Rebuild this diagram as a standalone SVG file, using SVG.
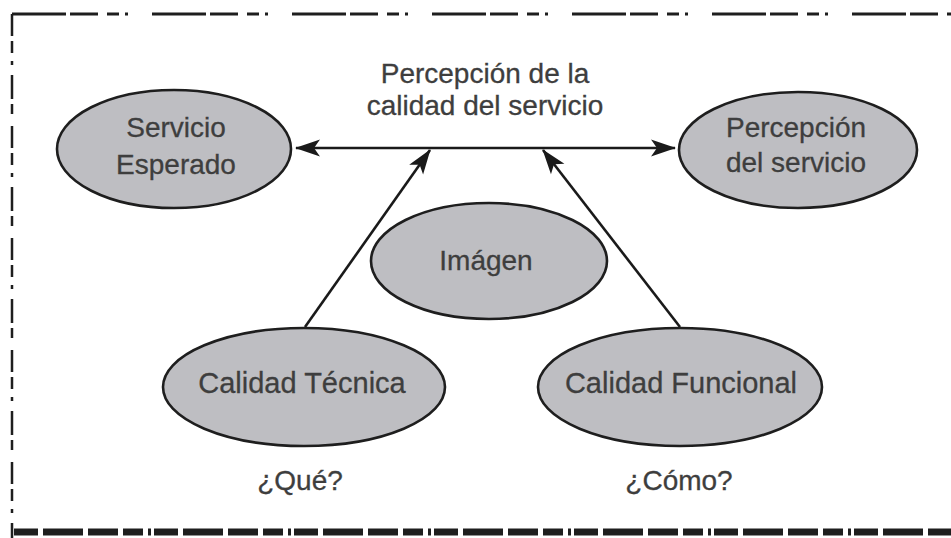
<svg xmlns="http://www.w3.org/2000/svg" width="951" height="538" viewBox="0 0 951 538">
  <defs>
    <marker id="ah" viewBox="-25 -10 27 20" refX="0" refY="0" markerWidth="27" markerHeight="20" markerUnits="userSpaceOnUse" orient="auto-start-reverse">
      <path d="M1,0 L-24,-8.5 L-18,0 L-24,8.5 Z" fill="#1a1a1a"/>
    </marker>
    <style>
      .node ellipse { fill: #bebec2; stroke: #1e1e1e; stroke-width: 2.6; }
      .lbl { font-family: "Liberation Sans", Arial, sans-serif; font-size: 28px; fill: #3e3e3e; stroke: #3e3e3e; stroke-width: 0.3; text-anchor: middle; }
      .conn { stroke: #1a1a1a; stroke-width: 2.6; fill: none; }
      .frame { stroke: #1e1e1e; fill: none; }
    </style>
  </defs>
  <rect width="951" height="538" fill="#ffffff"/>

  <g id="frame">
    <line class="frame" x1="12" y1="14" x2="951" y2="14" stroke-width="3" stroke-dasharray="54 4 28 9 12 6 3 24"/>
    <line class="frame" x1="12" y1="14" x2="12" y2="538" stroke-width="2.5" stroke-dasharray="22 5 12 8 4 10 24 5 10 12"/>
    <line class="frame" x1="14" y1="532" x2="951" y2="532" stroke-width="7" stroke-dasharray="24 5 40 5 30 5 20 5 3 3"/>
  </g>

  <g id="connectors">
    <path class="conn" d="M296,148 L675,148" marker-start="url(#ah)" marker-end="url(#ah)"/>
    <path class="conn" d="M305,327 L430,150" marker-end="url(#ah)"/>
    <path class="conn" d="M680,327 L543,150" marker-end="url(#ah)"/>
  </g>

  <g id="title">
    <text class="lbl" x="485" y="83">Percepción de la</text>
    <text class="lbl" x="485" y="115">calidad del servicio</text>
  </g>

  <g id="servicio-esperado" class="node">
    <ellipse cx="174" cy="149" rx="117" ry="59"/>
    <text class="lbl" x="176" y="137">Servicio</text>
    <text class="lbl" x="176" y="174">Esperado</text>
  </g>

  <g id="percepcion-servicio" class="node">
    <ellipse cx="798" cy="150" rx="119" ry="58"/>
    <text class="lbl" x="796" y="137">Percepción</text>
    <text class="lbl" x="796" y="172">del servicio</text>
  </g>

  <g id="imagen" class="node">
    <ellipse cx="489" cy="261" rx="118" ry="58"/>
    <text class="lbl" x="486" y="270">Imágen</text>
  </g>

  <g id="calidad-tecnica" class="node">
    <ellipse cx="304" cy="387" rx="141" ry="59"/>
    <text class="lbl" x="302" y="393" style="font-size:29px">Calidad Técnica</text>
  </g>

  <g id="calidad-funcional" class="node">
    <ellipse cx="680" cy="387" rx="142" ry="59"/>
    <text class="lbl" x="681" y="393" style="font-size:29px">Calidad Funcional</text>
  </g>

  <g id="que">
    <text class="lbl" x="300" y="490">¿Qué?</text>
  </g>
  <g id="como">
    <text class="lbl" x="679" y="490">¿Cómo?</text>
  </g>
</svg>
